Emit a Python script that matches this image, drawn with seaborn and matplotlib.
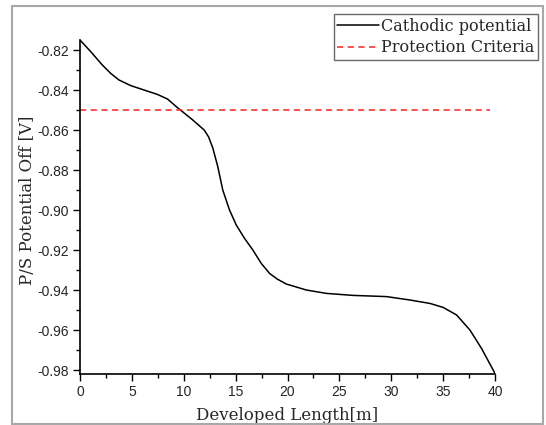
import numpy as np
import pandas as pd
import matplotlib
matplotlib.use("Agg")
import matplotlib.pyplot as plt
import seaborn as sns
from matplotlib.patches import Rectangle
from matplotlib.ticker import MultipleLocator

# Values
length_m = [0.0, 1.03, 2.15, 2.96, 3.76, 4.89, 6.17, 7.46, 8.43, 9.39, 10.87,
            11.97, 12.4, 12.8, 13.28, 13.76, 14.41, 15.06, 15.86, 16.66,
            17.47, 18.27, 19.0, 19.88, 21.81, 23.75, 26.31, 29.54, 31.79,
            33.72, 35.0, 36.3, 37.58, 38.7, 40.0]
potential_v = [-0.815, -0.8208, -0.8275, -0.8317, -0.835, -0.8378, -0.840,
               -0.8422, -0.8445, -0.8488, -0.855, -0.860, -0.8635, -0.869,
               -0.8783, -0.890, -0.900, -0.9075, -0.9142, -0.920, -0.9267,
               -0.9317, -0.9345, -0.937, -0.940, -0.9417, -0.9427, -0.9433,
               -0.945, -0.9467, -0.9487, -0.9525, -0.960, -0.9692, -0.9817]
criteria_x = [0.0, 39.5]
criteria_y = [-0.85, -0.85]

curve = pd.DataFrame({"x": length_m, "y": potential_v})
crit = pd.DataFrame({"x": criteria_x, "y": criteria_y})

sns.set_theme(style="ticks")
plt.rcParams["font.family"] = ["DejaVu Serif"]

fig = plt.figure(figsize=(5.46, 4.25), dpi=100)
ax = fig.add_axes([80 / 546, 51 / 425, 415 / 546, 334 / 425])

sns.lineplot(data=curve, x="x", y="y", ax=ax, color="black", linewidth=1.1,
             label="Cathodic potential", legend=False)
sns.lineplot(data=crit, x="x", y="y", ax=ax, color="#ff2020", linewidth=1.1,
             linestyle=(0, (4, 3)), label="Protection Criteria", legend=False)

ax.set_xlim(0, 40)
ax.set_ylim(-0.982, -0.815)
ax.xaxis.set_major_locator(MultipleLocator(5))
ax.xaxis.set_minor_locator(MultipleLocator(2.5))
ax.yaxis.set_major_locator(MultipleLocator(0.02))
ax.yaxis.set_minor_locator(MultipleLocator(0.01))
ax.yaxis.set_major_formatter(plt.FuncFormatter(lambda v, p: f"{v:.2f}"))

for s in ["top", "right"]:
    ax.spines[s].set_visible(False)
for s in ["left", "bottom"]:
    ax.spines[s].set_linewidth(1.2)
    ax.spines[s].set_color("black")

ax.tick_params(which="major", direction="out", length=5, width=1, color="black",
               labelsize=10, pad=3)
ax.tick_params(which="minor", direction="out", length=3, width=1, color="black")
for lab in ax.get_xticklabels() + ax.get_yticklabels():
    lab.set_fontfamily("Liberation Sans")

ax.set_xlabel("Developed Length[m]", fontsize=12, labelpad=5.5)
ax.set_ylabel("P/S Potential Off [V]", fontsize=12)
ax.yaxis.set_label_coords(-0.105, 0.521)

handles, labels = ax.get_legend_handles_labels()
leg = fig.legend(handles, labels, loc="upper right",
                 bbox_to_anchor=(538 / 546, 1 - 14 / 425), frameon=True,
                 fancybox=False, edgecolor="#444444", fontsize=11.5,
                 handlelength=2.6, handletextpad=0.15, borderpad=0.22,
                 labelspacing=0.3, borderaxespad=0)
leg.get_frame().set_linewidth(1.0)

fig.patches.append(Rectangle((12 / 546, 1 / 425), 531 / 546, 418 / 425,
                             transform=fig.transFigure, fill=False,
                             edgecolor="#a8a8a8", linewidth=1.5))

fig.savefig("out.png", dpi=100)
